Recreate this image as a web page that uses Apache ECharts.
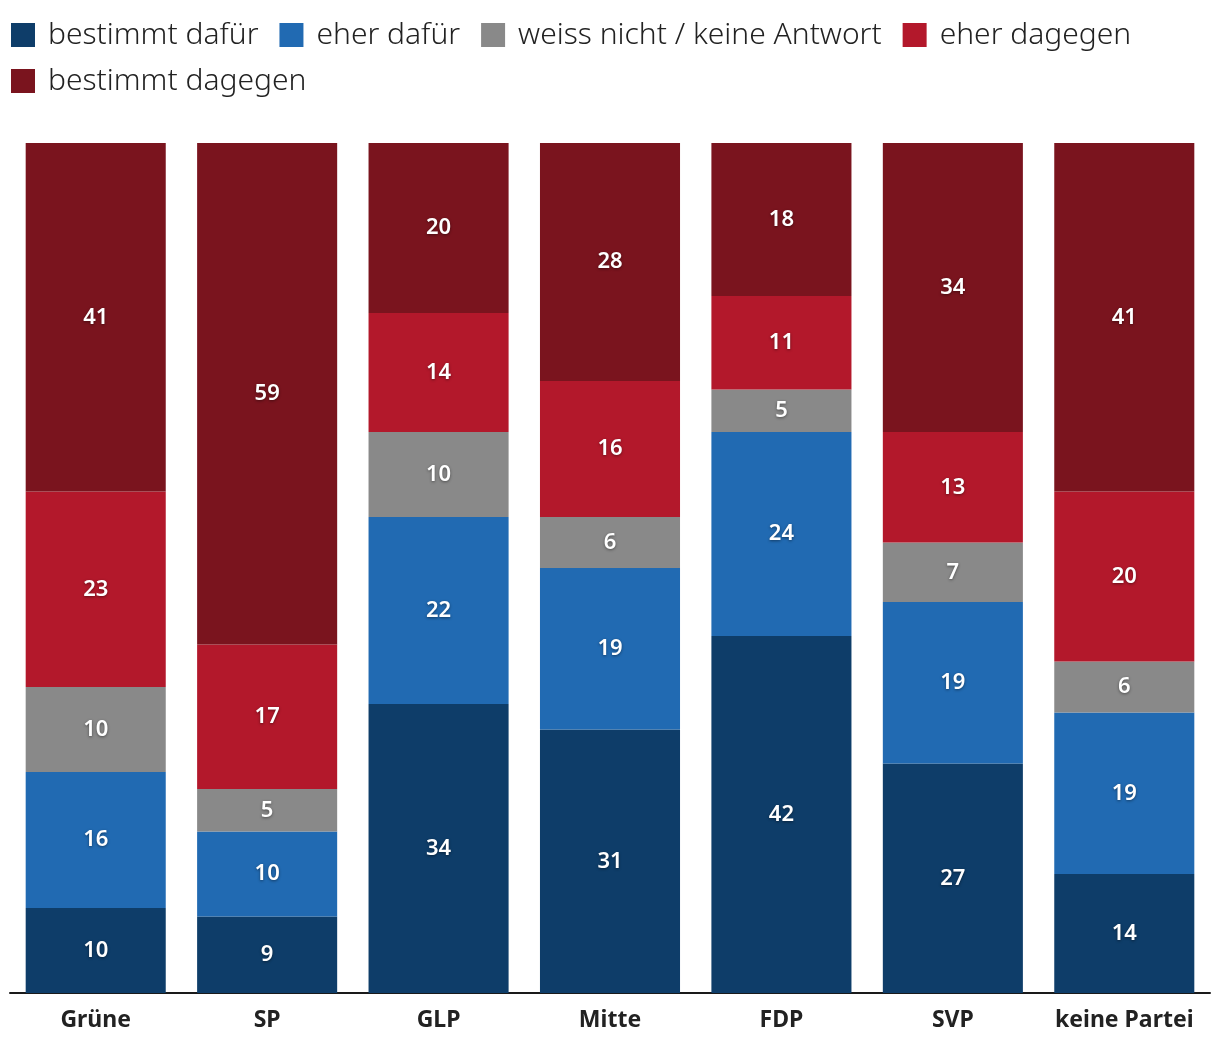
<!DOCTYPE html>
<html>
<head>
<meta charset="utf-8">
<script src="https://cdn.jsdelivr.net/npm/echarts@6/dist/echarts.min.js"></script>
<style>
html,body{margin:0;padding:0;background:#fff;}
#chart{width:1220px;height:1056px;}
</style>
</head>
<body>
<div id="chart"></div>
<script>
const categories = ['Grüne', 'SP', 'GLP', 'Mitte', 'FDP', 'SVP', 'keine Partei'];
const seriesNames = ['bestimmt dafür', 'eher dafür', 'weiss nicht / keine Antwort', 'eher dagegen', 'bestimmt dagegen'];
const bestimmtDafuer = [10, 9, 34, 31, 42, 27, 14];
const eherDafuer = [16, 10, 22, 19, 24, 19, 19];
const weissNicht = [10, 5, 10, 6, 5, 7, 6];
const eherDagegen = [23, 17, 14, 16, 11, 13, 20];
const bestimmtDagegen = [41, 59, 20, 28, 18, 34, 41];
const colors = ['#0e3d69', '#216ab2', '#898989', '#b3182b', '#7a141e'];

const allValues = [bestimmtDafuer, eherDafuer, weissNicht, eherDagegen, bestimmtDagegen];
const FONT = '"Noto Sans", "Open Sans", sans-serif';

const legendBase = {
  left: 6, width: 1200,
  itemWidth: 24, itemHeight: 24, itemGap: 21,
  icon: 'rect',
  textStyle: {fontSize: 30, fontWeight: 300, color: '#222', fontFamily: FONT, padding: [0, 0, 0, 8]}
};

const chart = echarts.init(document.getElementById('chart'), null, {renderer: 'canvas'});
chart.setOption({
  animation: false,
  color: colors,
  textStyle: {fontFamily: FONT},
  legend: [
    Object.assign({}, legendBase, {top: 15, data: seriesNames.slice(0, 4)}),
    Object.assign({}, legendBase, {top: 61, data: seriesNames.slice(4)})
  ],
  grid: {left: 10, right: 10, top: 143, bottom: 63, containLabel: false},
  xAxis: {
    type: 'category', data: categories,
    axisLine: {lineStyle: {color: '#1a1a1a', width: 2}},
    axisTick: {show: false},
    axisLabel: {interval: 0, fontSize: 23, fontWeight: 'bold', color: '#222', margin: 16, fontFamily: FONT}
  },
  yAxis: {type: 'value', min: 0, max: 100, show: false, splitLine: {show: false}},
  series: seriesNames.map((n, i) => ({
    name: n, type: 'bar', stack: 'total', barCategoryGap: '18.3%',
    data: allValues[i],
    itemStyle: {color: colors[i]},
    label: {
      show: true, position: 'inside', color: '#fff', fontSize: 22, fontWeight: 600, fontFamily: FONT,
      textShadowColor: 'rgba(0,0,0,0.45)', textShadowBlur: 3, textShadowOffsetY: 1
    }
  }))
});
</script>
</body>
</html>
